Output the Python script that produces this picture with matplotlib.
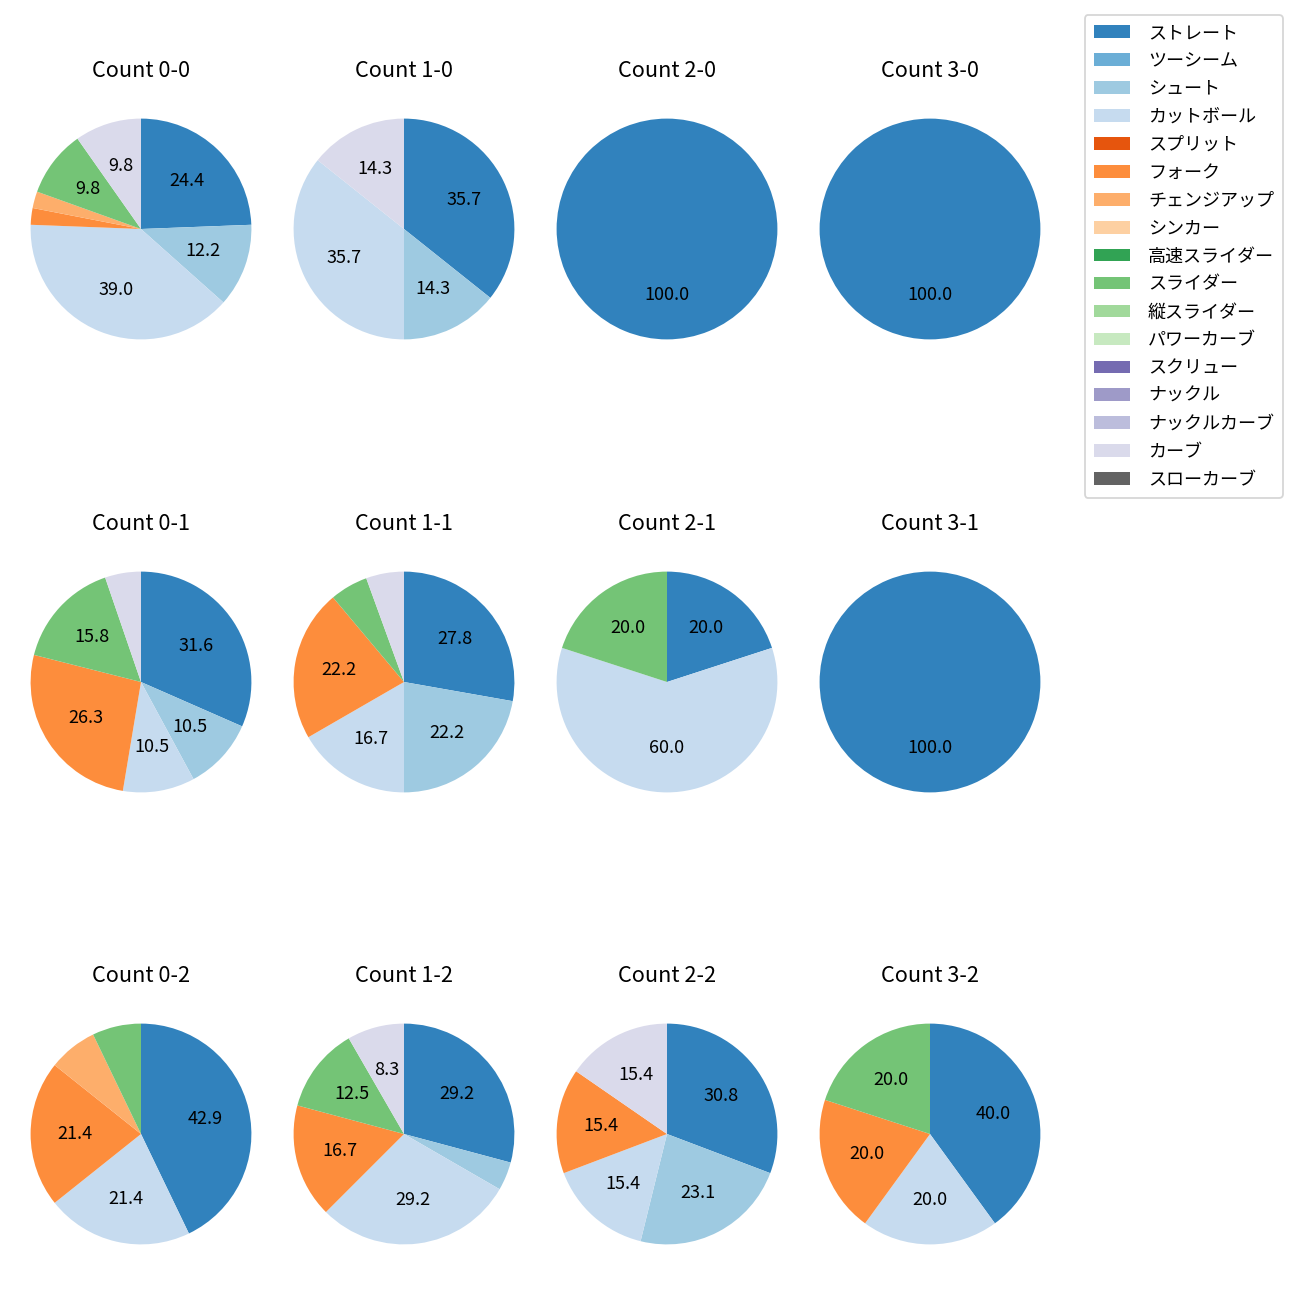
import numpy as np
import matplotlib
matplotlib.use("Agg")
import matplotlib.pyplot as plt
from matplotlib.patches import Patch

plt.rcParams['font.family'] = ['Noto Sans CJK JP', 'DejaVu Sans']

# pitch types in legend order, coloured with tab20c
pitch_types = ['ストレート', 'ツーシーム', 'シュート', 'カットボール', 'スプリット',
               'フォーク', 'チェンジアップ', 'シンカー', '高速スライダー', 'スライダー',
               '縦スライダー', 'パワーカーブ', 'スクリュー', 'ナックル', 'ナックルカーブ',
               'カーブ', 'スローカーブ']

counts = ['0-0', '1-0', '2-0', '3-0',
          '0-1', '1-1', '2-1', '3-1',
          '0-2', '1-2', '2-2', '3-2']

# pitch counts per ball-strike count, in pitch_types order
count_0_0 = [10, 0, 5, 16, 0, 1, 1, 0, 0, 4, 0, 0, 0, 0, 0, 4, 0]
count_1_0 = [5, 0, 2, 5, 0, 0, 0, 0, 0, 0, 0, 0, 0, 0, 0, 2, 0]
count_2_0 = [1, 0, 0, 0, 0, 0, 0, 0, 0, 0, 0, 0, 0, 0, 0, 0, 0]
count_3_0 = [1, 0, 0, 0, 0, 0, 0, 0, 0, 0, 0, 0, 0, 0, 0, 0, 0]
count_0_1 = [6, 0, 2, 2, 0, 5, 0, 0, 0, 3, 0, 0, 0, 0, 0, 1, 0]
count_1_1 = [5, 0, 4, 3, 0, 4, 0, 0, 0, 1, 0, 0, 0, 0, 0, 1, 0]
count_2_1 = [1, 0, 0, 3, 0, 0, 0, 0, 0, 1, 0, 0, 0, 0, 0, 0, 0]
count_3_1 = [1, 0, 0, 0, 0, 0, 0, 0, 0, 0, 0, 0, 0, 0, 0, 0, 0]
count_0_2 = [6, 0, 0, 3, 0, 3, 1, 0, 0, 1, 0, 0, 0, 0, 0, 0, 0]
count_1_2 = [7, 0, 1, 7, 0, 4, 0, 0, 0, 3, 0, 0, 0, 0, 0, 2, 0]
count_2_2 = [4, 0, 3, 2, 0, 2, 0, 0, 0, 0, 0, 0, 0, 0, 0, 2, 0]
count_3_2 = [2, 0, 0, 1, 0, 1, 0, 0, 0, 1, 0, 0, 0, 0, 0, 0, 0]

all_counts = [count_0_0, count_1_0, count_2_0, count_3_0,
              count_0_1, count_1_1, count_2_1, count_3_1,
              count_0_2, count_1_2, count_2_2, count_3_2]

colors = plt.get_cmap('tab20c')(np.arange(len(pitch_types)))


def pct_label(p):
    return f'{p:.1f}' if p >= 8 else ''


fig = plt.figure(figsize=(10, 10), dpi=130)

W, H = 1300, 1300
box = 276
col_x = [141, 404, 667, 930]
row_y = [229, 682, 1134]

for i, (name, vals) in enumerate(zip(counts, all_counts)):
    r, c = divmod(i, 4)
    ax = fig.add_axes([(col_x[c] - box / 2) / W, 1 - (row_y[r] + box / 2) / H,
                       box / W, box / H])
    vals = np.array(vals)
    mask = vals > 0
    ax.pie(vals[mask], colors=colors[mask], startangle=90, counterclock=False,
           autopct=pct_label, textprops={'fontsize': 10})
    ax.set_title(f'Count {name}', fontsize=12, pad=8)

handles = [Patch(facecolor=colors[k]) for k in range(len(pitch_types))]
fig.legend(handles, pitch_types, loc='upper right', fontsize=10,
           bbox_to_anchor=(1283 / W, 1 - 15 / H), borderaxespad=0,
           labelspacing=0.55, handletextpad=1.0, borderpad=0.5)

fig.savefig('out.png', dpi=130)
plt.close(fig)
